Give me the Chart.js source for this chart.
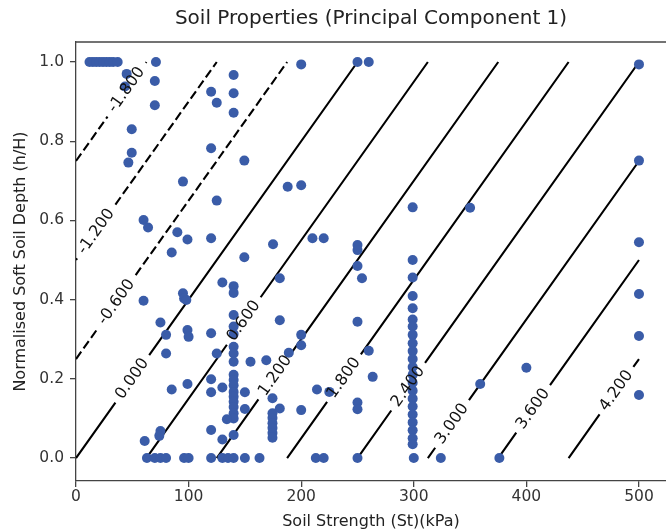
<!DOCTYPE html>
<html>
<head>
<meta charset="utf-8">
<script src="https://cdn.jsdelivr.net/npm/chart.js@4.4.1/dist/chart.umd.min.js"></script>
<style>
  html, body { margin: 0; padding: 0; background: #fff; }
  #wrap { width: 666px; height: 531px; }
</style>
</head>
<body>
<div id="wrap"><canvas id="soil" width="666" height="531"></canvas></div>
<script>
// measured samples: soil strength (kPa) and normalised soft soil depth (h/H)
const strengthKPa = [
  12, 15, 18, 21, 24, 27, 30, 33, 37,
  45, 43.5, 71, 70, 70, 49.5, 49.5, 46.5, 95, 125,
  120, 125, 140, 140, 140, 120, 149.5,
  200, 250, 260, 188, 200, 299, 350,
  500, 500, 500, 500, 500, 500,
  60, 64, 90, 99, 120, 85, 149.5, 175, 210, 220,
  250, 250, 250, 254, 250,
  299, 299, 299, 299, 299, 299, 299,
  181, 181,
  60, 95, 96, 98, 130,
  140, 140, 140, 140, 140,
  75, 99, 100, 120, 80,
  80, 125,
  140, 140, 140, 140, 140, 140, 140, 140, 140, 140, 140, 140, 140,
  155, 85, 99, 120, 120, 130, 150, 150, 134,
  75, 74, 61, 120, 130,
  200, 200, 189, 169, 260, 263.5, 214, 225,
  174.5, 181, 200,
  174.5, 174.5, 174.5, 174.5, 174.5, 174.5,
  250, 250,
  299, 299, 299, 299, 299, 299, 299, 299, 299, 299, 299, 299, 299, 299,
  400, 359,
  63, 70, 75, 80, 96, 100, 120, 130, 135, 140, 150, 163, 213, 220, 250, 300, 324, 376
];
const depthRatio = [
  1, 1, 1, 1, 1, 1, 1, 1, 1,
  0.97, 0.938, 1.0, 0.952, 0.891, 0.83, 0.771, 0.746, 0.698, 0.65,
  0.925, 0.897, 0.967, 0.921, 0.872, 0.782, 0.751,
  0.994, 1.0, 1.0, 0.685, 0.689, 0.633, 0.632,
  0.994, 0.751, 0.545, 0.414, 0.308, 0.159,
  0.601, 0.582, 0.57, 0.552, 0.555, 0.519, 0.507, 0.54, 0.555, 0.555,
  0.538, 0.525, 0.485, 0.454, 0.344,
  0.5, 0.456, 0.409, 0.378, 0.35, 0.332, 0.311,
  0.454, 0.348,
  0.397, 0.416, 0.403, 0.399, 0.443,
  0.434, 0.417, 0.361, 0.332, 0.313,
  0.342, 0.323, 0.306, 0.315, 0.311,
  0.264, 0.264,
  0.281, 0.264, 0.243, 0.21, 0.197, 0.184, 0.167, 0.155, 0.142, 0.129, 0.113, 0.1, 0.058,
  0.243, 0.173, 0.187, 0.199, 0.166, 0.178, 0.166, 0.124, 0.098,
  0.068, 0.056, 0.043, 0.071, 0.047,
  0.311, 0.285, 0.266, 0.247, 0.271, 0.205, 0.173, 0.167,
  0.151, 0.125, 0.121,
  0.113, 0.101, 0.088, 0.076, 0.063, 0.051,
  0.14, 0.123,
  0.29, 0.27, 0.25, 0.23, 0.21, 0.19, 0.17, 0.15, 0.13, 0.11, 0.09, 0.07, 0.05, 0.035,
  0.228, 0.187,
  0, 0, 0, 0, 0, 0, 0, 0, 0, 0, 0, 0, 0, 0, 0, 0, 0, 0
];

// contour levels of principal component 1
const levels = [-1.8, -1.2, -0.6, 0, 0.6, 1.2, 1.8, 2.4, 3.0, 3.6, 4.2];
// strength where each contour meets h/H = 0
const levelBaseKPa = [-187.5, -125, -62.5, 0, 62.5, 125, 187.5, 250, 312.5, 375, 437.5];
const levelRunKPa = 250;      // strength change along a contour per unit h/H
const gridMaxKPa = 500;       // contour grid extent
// where the inline labels sit (strength, kPa)
const labelKPa = [45, 18, 36, 50, 149, 177, 238, 295, 334, 406, 480];

const xTicks = [0, 100, 200, 300, 400, 500];
const yTicks = [0, 0.2, 0.4, 0.6, 0.8, 1.0];

const FONT = 'DejaVu Sans';

function depthOn(i, st) {
  return (st - levelBaseKPa[i]) / levelRunKPa;
}

function contourData(i) {
  const x0 = levelBaseKPa[i];
  const xs = Math.max(0, x0);
  const xe = Math.min(gridMaxKPa, x0 + levelRunKPa);
  const half = levels[i] < 0 ? 17 : 15;
  const g0 = labelKPa[i] - half, g1 = labelKPa[i] + half;
  const pts = [{ x: xs, y: depthOn(i, xs) }];
  if (g0 > xs) pts.push({ x: g0, y: depthOn(i, g0) });
  pts.push({ x: labelKPa[i], y: null });
  if (g1 < xe) pts.push({ x: g1, y: depthOn(i, g1) });
  pts.push({ x: xe, y: depthOn(i, xe) });
  return pts;
}

const contourSets = levels.map((lv, i) => ({
  data: contourData(i),
  showLine: true,
  spanGaps: false,
  borderColor: '#000',
  borderWidth: 2.1,
  borderDash: lv < 0 ? [9, 4] : [],
  pointRadius: 0,
  pointHoverRadius: 0,
  order: 2
}));

const contourLabels = {
  id: 'contourLabels',
  afterDatasetsDraw(chart) {
    const { ctx, scales: { x, y } } = chart;
    const ang = Math.atan2(
      y.getPixelForValue(1) - y.getPixelForValue(0),
      x.getPixelForValue(levelRunKPa) - x.getPixelForValue(0)
    );
    ctx.save();
    ctx.font = '16px "' + FONT + '"';
    ctx.fillStyle = '#111';
    ctx.textAlign = 'center';
    ctx.textBaseline = 'middle';
    levels.forEach((lv, i) => {
      const px = x.getPixelForValue(labelKPa[i]);
      const py = y.getPixelForValue(depthOn(i, labelKPa[i]));
      ctx.save();
      ctx.translate(px, py);
      ctx.rotate(ang);
      ctx.fillText(lv.toFixed(3), 0, 0);
      ctx.restore();
    });
    ctx.restore();
  }
};

const topSpine = {
  id: 'topSpine',
  afterDraw(chart) {
    const { ctx, chartArea: a } = chart;
    ctx.save();
    ctx.strokeStyle = '#444';
    ctx.lineWidth = 1.3;
    ctx.beginPath();
    ctx.moveTo(a.left, a.top);
    ctx.lineTo(a.right, a.top);
    ctx.stroke();
    ctx.restore();
  }
};

new Chart(document.getElementById('soil'), {
  type: 'scatter',
  data: {
    datasets: [{
      data: strengthKPa.map((s, i) => ({ x: s, y: depthRatio[i] })),
      backgroundColor: '#3a5ca8',
      borderWidth: 0,
      pointRadius: 5,
      pointHoverRadius: 5,
      order: 1
    }].concat(contourSets)
  },
  options: {
    responsive: false,
    animation: false,
    layout: { padding: 0, autoPadding: false },
    plugins: {
      legend: { display: false },
      tooltip: { enabled: false },
      title: {
        display: true,
        text: 'Soil Properties (Principal Component 1)',
        fullSize: false,
        color: '#222',
        font: { family: FONT, size: 20, weight: 'normal' },
        padding: { top: 7, bottom: 11 }
      }
    },
    scales: {
      x: {
        type: 'linear',
        min: 0,
        max: 524,
        afterBuildTicks: s => { s.ticks = xTicks.map(v => ({ value: v })); },
        afterFit: s => { s.height = 50; s.paddingLeft = 0; s.paddingRight = 0; },
        grid: { drawOnChartArea: false, drawTicks: true, tickLength: 6, color: '#444', lineWidth: 1.3 },
        border: { display: true, color: '#444', width: 1.3 },
        ticks: { color: '#333', padding: 1, maxRotation: 0, font: { family: FONT, size: 15.5 } },
        title: {
          display: true,
          text: 'Soil Strength (St)(kPa)',
          color: '#222',
          font: { family: FONT, size: 16 },
          padding: { top: 0, bottom: 0 }
        }
      },
      y: {
        type: 'linear',
        min: -0.058,
        max: 1.0505,
        afterBuildTicks: s => { s.ticks = yTicks.map(v => ({ value: v })); },
        afterFit: s => { s.width = 76; s.paddingTop = 0; s.paddingBottom = 0; },
        grid: { drawOnChartArea: false, drawTicks: true, tickLength: 6, color: '#444', lineWidth: 1.3 },
        border: { display: true, color: '#444', width: 1.3 },
        ticks: { color: '#333', padding: 6, font: { family: FONT, size: 15.5 }, callback: v => v.toFixed(1) },
        title: {
          display: true,
          text: 'Normalised Soft Soil Depth (h/H)',
          color: '#222',
          font: { family: FONT, size: 16 },
          padding: { top: 11, bottom: 0 }
        }
      }
    }
  },
  plugins: [contourLabels, topSpine]
});
</script>
</body>
</html>
